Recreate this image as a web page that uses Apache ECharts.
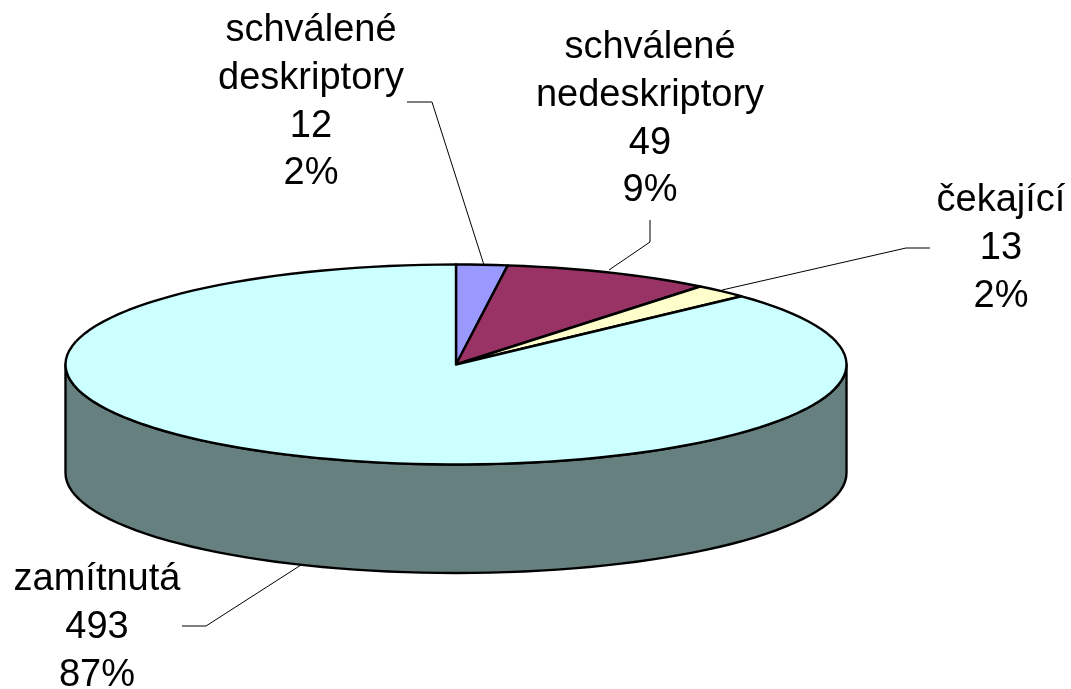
<!DOCTYPE html>
<html>
<head>
<meta charset="utf-8">
<style>html,body{margin:0;padding:0;background:#fff}#c{width:1071px;height:689px}</style>
<script src="https://cdn.jsdelivr.net/npm/echarts@6/dist/echarts.min.js"></script>
</head>
<body>
<div id="c"></div>
<script>
// Data
var categories = [['schválené', 'deskriptory'], ['schválené', 'nedeskriptory'], ['čekající'], ['zamítnutá']];
var values = [12, 49, 13, 493];

// Style and layout (separate from the data)
var topColors = ['#9999FF', '#993366', '#FFFFCC', '#CCFFFF'];
var wallColor = '#668080';
var cx = 456, cy = 364.5, rx = 390.5, ry = 100, depth = 108.5;
var labelCenters = [[311, 31], [650, 48], [1001, 201], [97, 580]];
var lineHeight = 47.6;
var leaders = [
  [[407, 102], [432, 102], [484, 265]],
  [[650, 220], [650, 242], [609, 270]],
  [[930, 248], [906, 248], [722, 290]],
  [[182, 626], [206, 626], [301, 565]]
];

var total = values.reduce(function (a, b) { return a + b; }, 0);

function pt(t, dy) {
  return [cx + rx * Math.sin(t), cy - ry * Math.cos(t) + (dy || 0)];
}
function arc(t0, t1, dy) {
  var n = Math.max(2, Math.ceil(Math.abs(t1 - t0) / (Math.PI / 72)));
  var out = [];
  for (var i = 0; i <= n; i++) out.push(pt(t0 + (t1 - t0) * i / n, dy));
  return out;
}

function renderItem(params, api) {
  var i = params.dataIndex;
  var before = 0;
  for (var k = 0; k < i; k++) before += values[k];
  var t0 = before / total * 2 * Math.PI;
  var t1 = (before + api.value(0)) / total * 2 * Math.PI;
  var stroke = { stroke: '#000', lineWidth: 2.4, lineJoin: 'round' };
  var children = [];

  // front wall: the part of the slice on the lower half of the ellipse
  var a = Math.max(t0, Math.PI / 2), b = Math.min(t1, 3 * Math.PI / 2);
  if (b > a) {
    children.push({
      type: 'polygon',
      shape: { points: arc(a, b, 0).concat(arc(b, a, depth)) },
      style: Object.assign({ fill: wallColor }, stroke)
    });
  }
  // top face
  children.push({
    type: 'polygon',
    shape: { points: [[cx, cy]].concat(arc(t0, t1, 0)) },
    style: Object.assign({ fill: topColors[i] }, stroke)
  });
  // leader
  children.push({
    type: 'polyline',
    shape: { points: leaders[i] },
    style: { fill: null, stroke: '#000', lineWidth: 1 }
  });
  // label
  var lines = categories[i].concat([String(api.value(0)), Math.round(api.value(0) / total * 100) + '%']);
  lines.forEach(function (s, j) {
    children.push({
      type: 'text',
      style: {
        text: s,
        x: labelCenters[i][0],
        y: labelCenters[i][1] + j * lineHeight,
        align: 'center',
        verticalAlign: 'middle',
        fill: '#000',
        font: '38px "Liberation Sans", Arial, sans-serif'
      }
    });
  });
  return { type: 'group', children: children };
}

var chart = echarts.init(document.getElementById('c'), null, { renderer: 'canvas' });
chart.setOption({
  animation: false,
  backgroundColor: '#fff',
  series: [{
    type: 'custom',
    coordinateSystem: 'none',
    renderItem: renderItem,
    data: values.map(function (v) { return [v]; })
  }]
});
</script>
</body>
</html>
